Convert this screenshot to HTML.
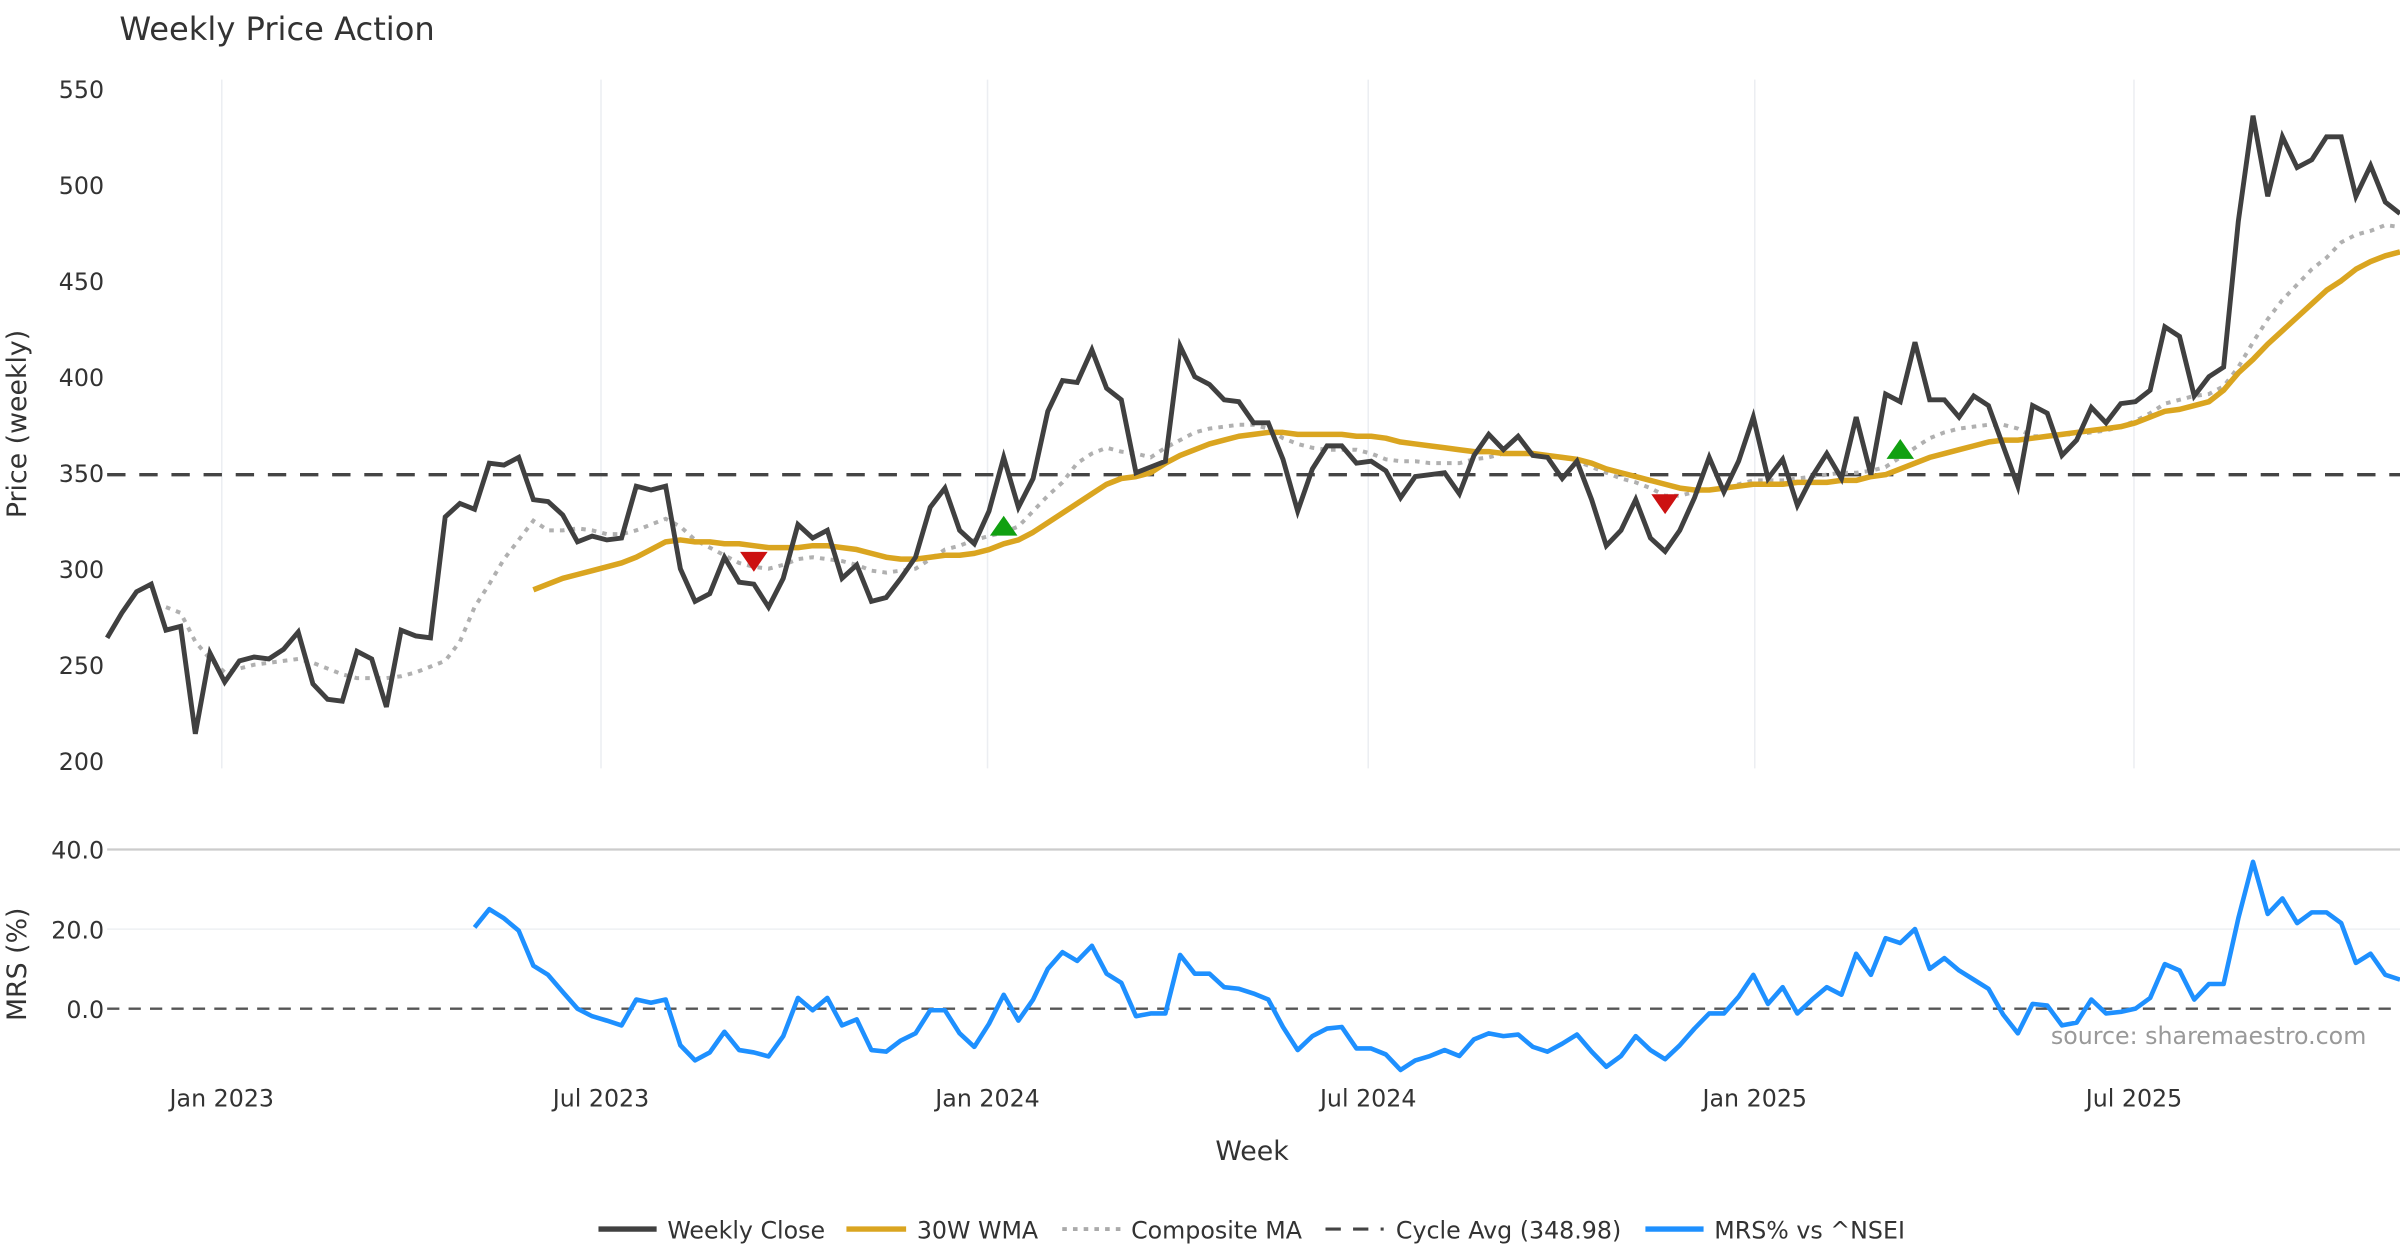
<!DOCTYPE html>
<html><head><meta charset="utf-8"><title>Weekly Price Action</title>
<style>html,body{margin:0;padding:0;background:#fff;}svg{display:block;font-family:"DejaVu Sans","Liberation Sans",sans-serif;}</style>
</head><body>
<svg id="chart" width="2400" height="1260" viewBox="0 0 1568 823.2" xmlns="http://www.w3.org/2000/svg">
<rect width="1568" height="824" fill="#fff"/>
<text x="78" y="26" font-size="21" fill="#333">Weekly Price Action</text>
<g id="grid"></g><g id="axes"></g><g id="series"></g>
<text transform="translate(17,277) rotate(-90)" text-anchor="middle" font-size="17.5" fill="#333">Price (weekly)</text>
<text transform="translate(17,630) rotate(-90)" text-anchor="middle" font-size="17.5" fill="#333">MRS (%)</text>
<text x="818" y="758" text-anchor="middle" font-size="17.5" fill="#333">Week</text>
<text x="1546" y="682" text-anchor="end" font-size="15.5" fill="#999">source: sharemaestro.com</text>
<g font-size="15.5" fill="#333">
<g><line x1="391" y1="803" x2="429" y2="803" stroke="#404040" stroke-width="3.5"/><text x="436" y="809">Weekly Close</text></g>
<g><line x1="553" y1="803" x2="592" y2="803" stroke="#DAA520" stroke-width="3.5"/><text x="599" y="809">30W WMA</text></g>
<g><line x1="694" y1="803" x2="732" y2="803" stroke="#aaa" stroke-width="2.5" stroke-dasharray="3,4"/><text x="739" y="809">Composite MA</text></g>
<g><line x1="866" y1="803" x2="904" y2="803" stroke="#444" stroke-width="2" stroke-dasharray="10,8"/><text x="912" y="809">Cycle Avg (348.98)</text></g>
<g><line x1="1075" y1="803" x2="1113" y2="803" stroke="#1E90FF" stroke-width="3.5"/><text x="1120" y="809">MRS% vs ^NSEI</text></g>
</g>
</svg>
<script>
const closeVals=[264,277,288,292,268,270,214,256,241,252,254,253,258,267,240,232,231,257,253,228,268,265,264,327,334,331,355,354,358,336,335,328,314,317,315,316,343,341,343,300,283,287,306,293,292,280,295,323,316,320,295,302,283,285,295,306,332,342,320,313,330,358,332,347,382,398,397,414,394,388,350,353,356,416,400,396,388,387,376,376,357,330,352,364,364,355,356,351,337,348,349,350,339,359,370,362,369,359,358,347,356,336,312,320,336,316,309,320,337,358,340,356,379,347,357,333,348,360,347,379,349,391,387,418,388,388,379,390,385,364,343,385,381,359,367,384,376,386,387,393,426,421,390,400,405,481,536,494,525,509,513,525,525,494,510,491,485];
const wmaStart=29;
const wmaVals=[289,292,295,297,299,301,303,306,310,314,315,314,314,313,313,312,311,311,311,312,312,311,310,308,306,305,305,306,307,307,308,310,313,315,319,324,329,334,339,344,347,348,350,355,359,362,365,367,369,370,371,371,370,370,370,370,369,369,368,366,365,364,363,362,361,361,360,360,360,359,358,357,355,352,350,348,346,344,342,341,341,342,343,344,344,344,345,345,345,346,346,348,349,352,355,358,360,362,364,366,367,367,368,369,370,371,372,373,374,376,379,382,383,385,387,393,402,409,417,424,431,438,445,450,456,460,463,465];
const compStart=4;
const compVals=[280,277,262,253,246,248,250,251,252,253,251,248,245,243,243,243,244,246,249,252,262,280,292,305,315,325,320,320,321,320,318,318,320,323,326,322,315,311,307,303,301,300,302,305,306,305,304,302,299,298,299,300,305,310,312,315,317,319,322,330,338,345,355,360,363,361,360,358,363,367,371,373,374,375,375,373,368,365,363,362,362,362,360,357,356,356,355,355,355,357,358,360,360,360,359,358,356,353,350,347,345,342,338,338,340,341,342,344,346,346,346,347,348,349,350,350,351,353,358,363,368,371,373,374,375,375,373,369,369,370,370,371,372,374,377,381,386,388,390,391,395,405,418,430,440,448,456,462,470,474,476,479,478];
const mrsStart=25;
const mrsVals=[20.4,25,22.7,19.6,10.8,8.5,4.2,0,-1.9,-3,-4.2,2.3,1.5,2.3,-9.2,-13,-11,-5.8,-10.4,-11,-12,-6.9,2.7,-0.4,2.7,-4.2,-2.7,-10.4,-10.8,-8,-6.2,-0.4,-0.4,-6.2,-9.6,-3.8,3.5,-3,2.3,10,14.2,12,15.8,8.8,6.5,-1.9,-1.2,-1.2,13.5,8.8,8.8,5.4,5,3.8,2.3,-4.6,-10.4,-6.9,-5,-4.6,-10,-10,-11.5,-15.4,-13,-11.9,-10.4,-11.9,-7.7,-6.2,-6.9,-6.5,-9.6,-10.8,-8.8,-6.5,-10.8,-14.6,-11.9,-6.9,-10.4,-12.7,-9.2,-5,-1.2,-1.2,3,8.5,1.2,5.4,-1.2,2.3,5.4,3.5,13.8,8.5,17.7,16.5,20,10,12.7,9.6,7.3,5,-1.5,-6.2,1.2,0.8,-4.2,-3.5,2.3,-1.2,-0.8,0,2.7,11.2,9.6,2.3,6.2,6.2,22.7,36.9,23.8,27.7,21.5,24.2,24.2,21.5,11.5,13.8,8.5,7.3];
const cycleAvg=348.98;
const sellIdx=[44,106];
const sellVals=[304,334];
const buyIdx=[61,122];
const buyVals=[322,362];
const priceTicks=[200,250,300,350,400,450,500,550];
const mrsTicks=[0,20,40];
const mrsTickLabels=["0.0","20.0","40.0"];
const dateTickIdx=[7.8,33.6,59.9,85.8,112.1,137.9];
const dateTickLabels=["Jan 2023","Jul 2023","Jan 2024","Jul 2024","Jan 2025","Jul 2025"];

const NS="http://www.w3.org/2000/svg";
const N=closeVals.length;
const X=i=>70+i*(1498/(N-1));
const Y=v=>58+(550-v)*(439/350);
const YM=v=>659-v*2.6;
function mk(tag,attrs,parent){const e=document.createElementNS(NS,tag);for(const k in attrs)e.setAttribute(k,attrs[k]);parent.appendChild(e);return e;}
const grid=document.getElementById('grid'),axes=document.getElementById('axes'),ser=document.getElementById('series');

dateTickIdx.forEach((t,k)=>{
  const g1=mk('line',{x1:X(t),x2:X(t),y1:52,y2:502,stroke:'#eceef2','stroke-width':1},grid);
  
  
  const tx=mk('text',{x:X(t),y:723,'text-anchor':'middle','font-size':15.5,fill:'#333'},axes);
  tx.textContent=dateTickLabels[k];
  
  
});
priceTicks.forEach(v=>{
  const tx=mk('text',{x:68,y:Y(v)+6,'text-anchor':'end','font-size':15.5,fill:'#333'},axes);
  tx.textContent=v;
  
  
});
mrsTicks.forEach((v,k)=>{
  const tx=mk('text',{x:68,y:YM(v)+6,'text-anchor':'end','font-size':15.5,fill:'#333'},axes);
  tx.textContent=mrsTickLabels[k];
  
  
  if(v!==0){
    const l=mk('line',{x1:70,x2:1568,y1:YM(v),y2:YM(v),stroke:v===40?'#ccc':'#eef0f3','stroke-width':v===40?1.5:1},grid);
    
    
  }
});
const z=mk('line',{x1:70,x2:1568,y1:YM(0),y2:YM(0),stroke:'#555','stroke-width':1.5,'stroke-dasharray':'8,6'},grid);



const cy=mk('line',{x1:70,x2:1568,y1:Y(cycleAvg),y2:Y(cycleAvg),stroke:'#444','stroke-width':2.2,'stroke-dasharray':'12,9'},ser);



function path(vals,start,fy){return vals.map((v,i)=>(i?'L':'M')+X(start+i).toFixed(2)+','+fy(v).toFixed(2)).join('');}
const cm=mk('path',{d:path(compVals,compStart,Y),fill:'none',stroke:'#b0b0b0','stroke-width':2.6,'stroke-dasharray':'3,4'},ser);


const wm=mk('path',{d:path(wmaVals,wmaStart,Y),fill:'none',stroke:'#DAA520','stroke-width':3.6,'stroke-linejoin':'round'},ser);


const cl=mk('path',{d:path(closeVals,0,Y),fill:'none',stroke:'#404040','stroke-width':3.2,'stroke-linejoin':'miter'},ser);


const mr=mk('path',{d:path(mrsVals,mrsStart,YM),fill:'none',stroke:'#1E90FF','stroke-width':3,'stroke-linejoin':'round'},ser);



sellIdx.forEach((t,k)=>{
  const x=X(t),y=Y(sellVals[k]);
  const p=mk('polygon',{points:`${x-9},${y-6} ${x+9},${y-6} ${x},${y+7}`,fill:'#cc1111'},ser);
  
  
});
buyIdx.forEach((t,k)=>{
  const x=X(t),y=Y(buyVals[k]);
  const p=mk('polygon',{points:`${x-9},${y+6} ${x+9},${y+6} ${x},${y-7}`,fill:'#11a011'},ser);
  
  
});
</script>
</body></html>
